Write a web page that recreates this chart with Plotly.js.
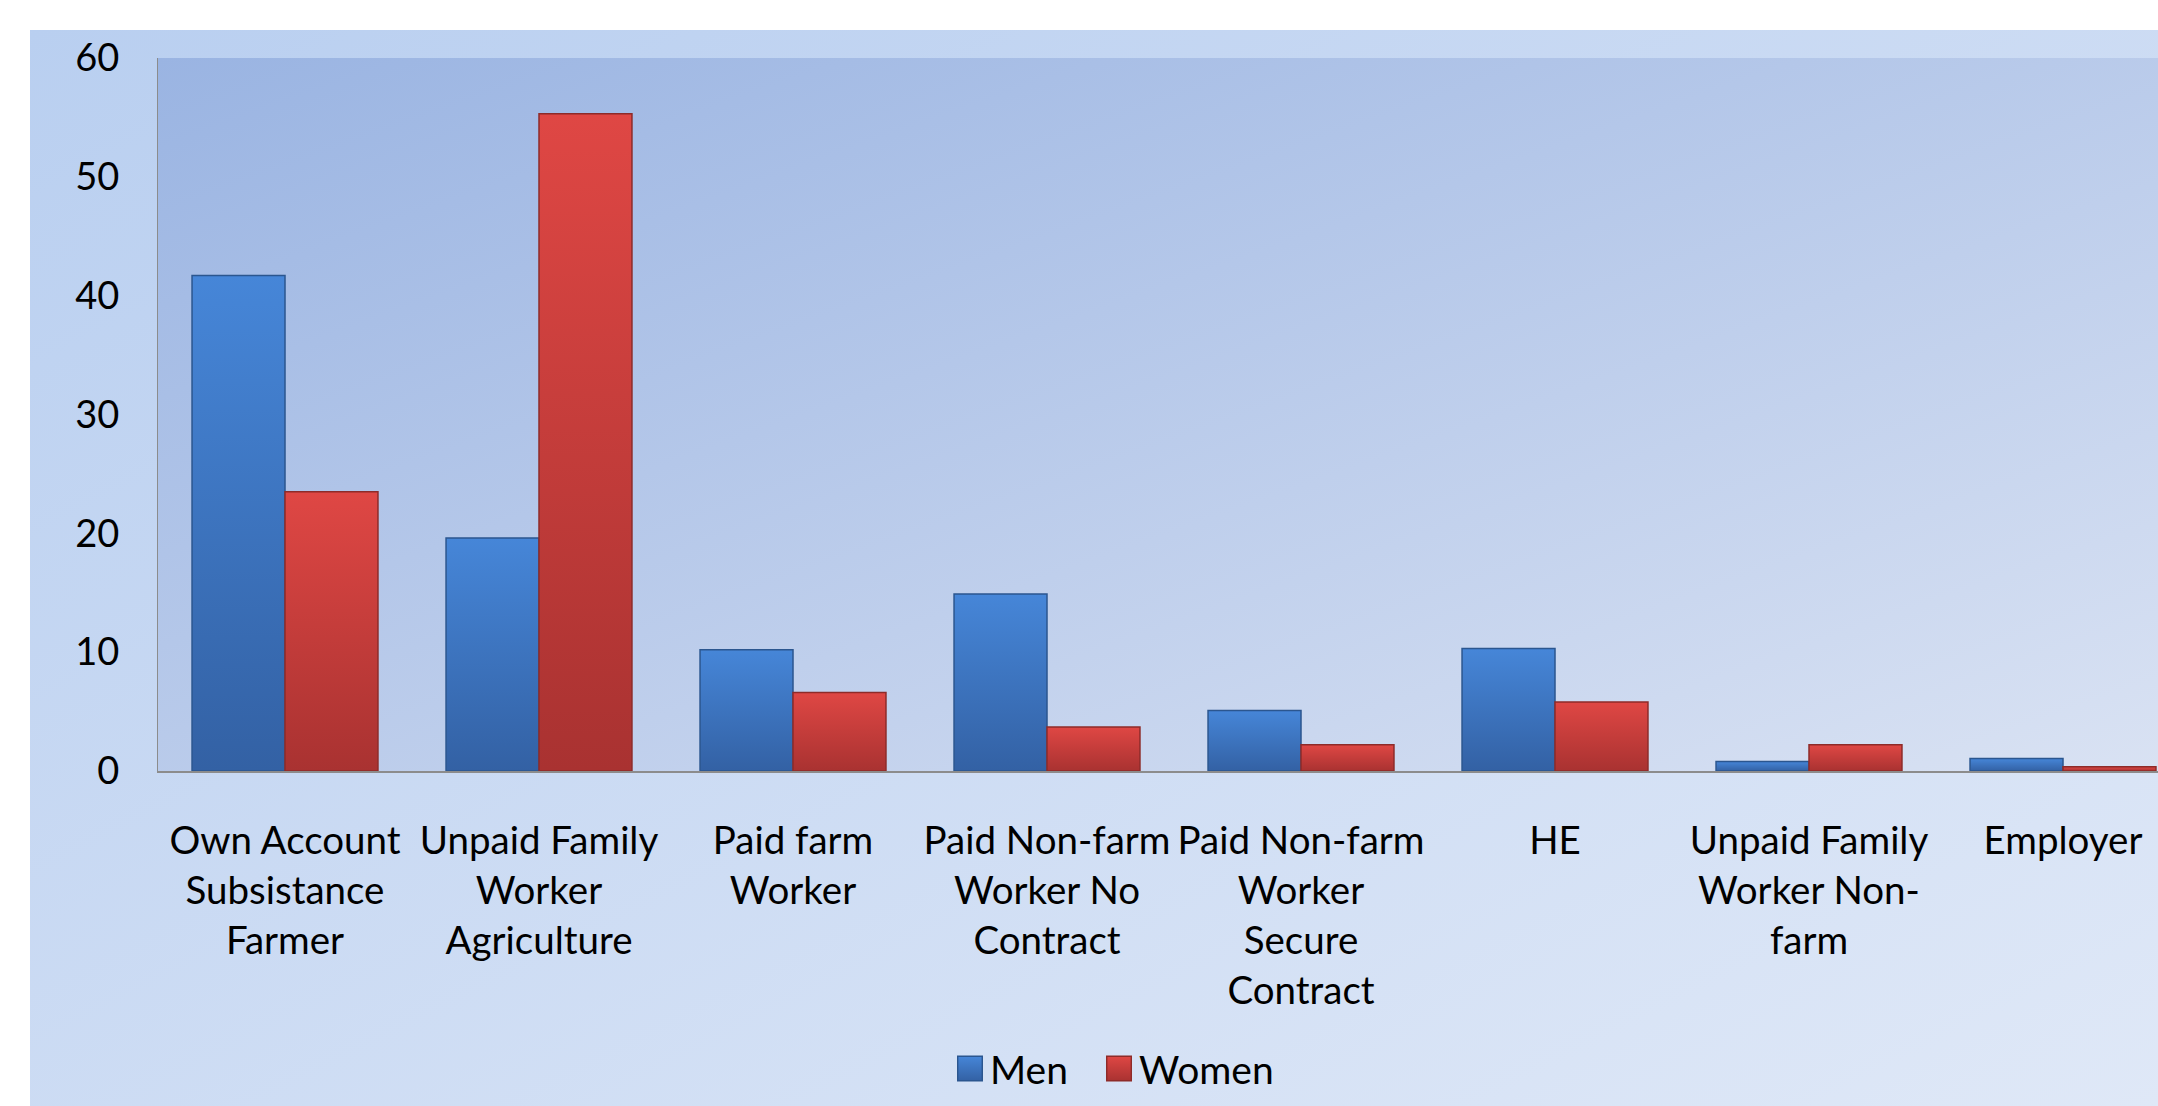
<!DOCTYPE html>
<html>
<head>
<meta charset="utf-8">
<script src="https://cdn.plot.ly/plotly-3.0.1.min.js"></script>
<style>
html,body{margin:0;padding:0;background:#ffffff;overflow:hidden;}
#chart{width:2158px;height:1106px;}
</style>
</head>
<body>
<div id="chart"></div>
<script>
// ---- data ----
var categories = [
  "Own Account<br>Subsistance<br>Farmer",
  "Unpaid Family<br>Worker<br>Agriculture",
  "Paid farm<br>Worker",
  "Paid Non-farm<br>Worker No<br>Contract",
  "Paid Non-farm<br>Worker<br>Secure<br>Contract",
  "HE",
  "Unpaid Family<br>Worker Non-<br>farm",
  "Employer"
];
var menValues   = [41.7, 19.6, 10.2, 14.9, 5.1, 10.3, 0.8, 1.05];
var womenValues = [23.5, 55.3, 6.6, 3.7, 2.2, 5.8, 2.2, 0.35];
var seriesNames = ["Men", "Women"];
var yTickValues = [0, 10, 20, 30, 40, 50, 60];

// ---- styling ----
var FONT = 'Lato, "Open Sans", sans-serif';
var barGradients = [
  {id: "gradMen",   top: "#4686d8", bottom: "#3361a4"},
  {id: "gradWomen", top: "#df4744", bottom: "#a93231"}
];

function gradientSvg(c1, c2) {
  var svg = "<svg xmlns='http://www.w3.org/2000/svg' width='100' height='100' preserveAspectRatio='none'>" +
    "<defs><linearGradient id='g' x1='0' y1='0' x2='1' y2='1'>" +
    "<stop offset='0' stop-color='" + c1 + "'/><stop offset='1' stop-color='" + c2 + "'/>" +
    "</linearGradient></defs><rect width='100' height='100' fill='url(#g)'/></svg>";
  return "data:image/svg+xml;charset=utf-8," + encodeURIComponent(svg);
}

var traces = [
  {
    type: "bar",
    name: seriesNames[0],
    x: categories,
    y: menValues,
    legendwidth: 104,
    marker: {color: "#3d77c3", line: {color: "#2b568f", width: 1.5}},
    hoverinfo: "y+name"
  },
  {
    type: "bar",
    name: seriesNames[1],
    x: categories,
    y: womenValues,
    marker: {color: "#cc3f3d", line: {color: "#8e2b29", width: 1.5}},
    hoverinfo: "y+name"
  }
];

var layout = {
  width: 2158,
  height: 1106,
  margin: {l: 158, r: 0, t: 58, b: 335, pad: 0},
  paper_bgcolor: "#ffffff",
  plot_bgcolor: "rgba(0,0,0,0)",
  font: {family: FONT, size: 37, color: "#000000"},
  barmode: "group",
  bargap: 0.268,
  bargroupgap: 0,
  showlegend: true,
  legend: {
    orientation: "h",
    x: 0.396, xanchor: "left",
    y: -0.4175, yanchor: "middle",
    font: {family: FONT, size: 39, color: "#000000"},
    bgcolor: "rgba(0,0,0,0)"
  },
  xaxis: {
    type: "category",
    range: [-0.5, 7.374],
    showgrid: false,
    zeroline: false,
    showline: true,
    linecolor: "#8c8c8c",
    linewidth: 2,
    ticks: "",
    tickangle: 0,
    ticklabelstandoff: 35,
    tickfont: {family: FONT, size: 38.5, color: "#000000"},
    fixedrange: true
  },
  yaxis: {
    range: [0, 60],
    tickvals: yTickValues,
    showgrid: false,
    zeroline: false,
    showline: true,
    linecolor: "#8c8c8c",
    linewidth: 1,
    ticks: "",
    ticklabelstandoff: 30,
    tickfont: {family: FONT, size: 38, color: "#000000"},
    fixedrange: true
  },
  images: [
    {
      source: gradientSvg("#b9cff0", "#dfe8f7"),
      xref: "paper", yref: "paper",
      x: -0.064, y: 1.0393,
      sizex: 1.064, sizey: 1.5102,
      xanchor: "left", yanchor: "top",
      sizing: "stretch",
      layer: "below"
    },
    {
      source: gradientSvg("#9ab4e2", "#d9e2f3"),
      xref: "paper", yref: "paper",
      x: 0, y: 1,
      sizex: 1, sizey: 1,
      xanchor: "left", yanchor: "top",
      sizing: "stretch",
      layer: "below"
    }
  ]
};

var SVGNS = "http://www.w3.org/2000/svg";
function addBarShading(gd) {
  var svg = gd.querySelector(".main-svg");
  var defs = svg.querySelector("defs") || svg.insertBefore(document.createElementNS(SVGNS, "defs"), svg.firstChild);
  barGradients.forEach(function (g) {
    var lg = document.createElementNS(SVGNS, "linearGradient");
    lg.setAttribute("id", g.id);
    lg.setAttribute("x1", "0"); lg.setAttribute("y1", "0");
    lg.setAttribute("x2", "0"); lg.setAttribute("y2", "1");
    [[0, g.top], [1, g.bottom]].forEach(function (s) {
      var st = document.createElementNS(SVGNS, "stop");
      st.setAttribute("offset", s[0]);
      st.setAttribute("stop-color", s[1]);
      lg.appendChild(st);
    });
    defs.appendChild(lg);
  });
  var traceGroups = gd.querySelectorAll(".barlayer .trace");
  traceGroups.forEach(function (tg, i) {
    tg.querySelectorAll("path").forEach(function (p) {
      p.style.fill = "url(#" + barGradients[i].id + ")";
    });
  });
  gd.querySelectorAll(".legend .traces").forEach(function (t, i) {
    var p = t.querySelector(".legendpoints path");
    if (!p) return;
    var tr = p.getAttribute("transform") || "";
    p.setAttribute("transform", tr + " scale(2.05)");
    p.style.strokeWidth = "0.7px";
    p.style.fill = "url(#" + barGradients[i].id + ")";
  });
}

Plotly.newPlot("chart", traces, layout, {displayModeBar: false, staticPlot: true}).then(addBarShading);
</script>
</body>
</html>
